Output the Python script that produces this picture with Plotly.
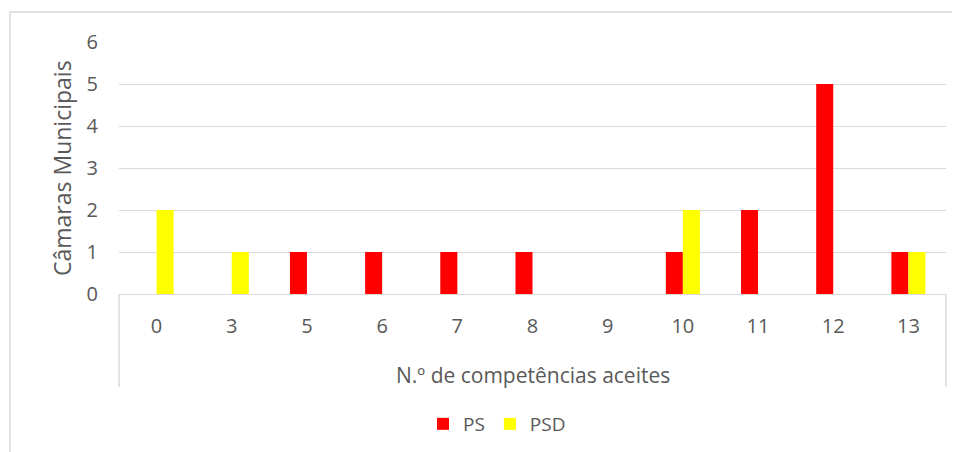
import plotly.graph_objects as go

categories = ["0", "3", "5", "6", "7", "8", "9", "10", "11", "12", "13"]
ps_values = [0, 0, 1, 1, 1, 1, 0, 1, 2, 5, 1]
psd_values = [2, 1, 0, 0, 0, 0, 0, 2, 0, 0, 1]
y_ticks = [0, 1, 2, 3, 4, 5, 6]

FONT = "Open Sans"
GREY = "#595959"
LINE = "#d9d9d9"

fig = go.Figure()
fig.add_trace(go.Bar(name="PS", x=categories, y=ps_values, marker=dict(color="#FF0000", line=dict(width=0))))
fig.add_trace(go.Bar(name="PSD", x=categories, y=psd_values, marker=dict(color="#FFFF00", line=dict(width=0))))

# page offset (body margin) compensation
OFF = 8
W, H = 960 - OFF, 452 - OFF
# target pixel positions in the 960x452 window
PL, PR, PT, PB = 119, 946, 42, 294
L = PL - OFF
R = W - (PR - OFF)
T = PT - OFF
B = H - (PB - OFF)
pw = W - L - R
ph = H - T - B

def px_x(x):
    return (x - OFF - L) / pw

def px_y(y):
    return (H - B - (y - OFF)) / ph

fig.update_layout(
    width=W, height=H,
    margin=dict(l=L, r=R, t=T, b=B, pad=0, autoexpand=False),
    paper_bgcolor="white", plot_bgcolor="white",
    barmode="group", bargap=0.547, bargroupgap=0,
    font=dict(family=FONT, color=GREY, size=20),
    showlegend=True,
    legend=dict(orientation="h", x=px_x(497), xanchor="center", y=px_y(424), yanchor="middle",
                font=dict(family=FONT, size=19, color=GREY), itemsizing="constant",
                traceorder="normal", itemwidth=30),
    xaxis=dict(type="category", showgrid=False, showline=True, linecolor=LINE, linewidth=1,
               ticks="", ticklabelstandoff=14, tickfont=dict(size=20, color=GREY), zeroline=False,
               fixedrange=True),
    yaxis=dict(range=[0, 6], tickvals=y_ticks, showgrid=True, gridcolor=LINE, gridwidth=1,
               showline=False, zeroline=False, ticks="", ticklabelstandoff=20,
               tickfont=dict(size=20, color=GREY)),
)

# y-axis title
fig.add_annotation(text="Câmaras Municipais", xref="paper", yref="paper",
                   x=px_x(62), y=px_y(168), xanchor="center", yanchor="middle", showarrow=False,
                   textangle=-90, font=dict(family=FONT, size=23, color=GREY))

# x-axis title
fig.add_annotation(text="N.º de competências aceites", xref="paper", yref="paper",
                   x=0.5, y=px_y(375), xanchor="center", yanchor="middle", showarrow=False,
                   font=dict(family=FONT, size=21, color=GREY))

# category axis side lines
for xp in [0, 1]:
    fig.add_shape(type="line", xref="paper", yref="paper", x0=xp, x1=xp, y0=0, y1=px_y(387),
                  line=dict(color=LINE, width=1.5))

# outer chart border
fig.add_shape(type="rect", xref="paper", yref="paper", x0=px_x(10), x1=px_x(990),
              y0=px_y(470), y1=px_y(12), line=dict(color=LINE, width=1.5), layer="below")

fig.write_html("out.html")
